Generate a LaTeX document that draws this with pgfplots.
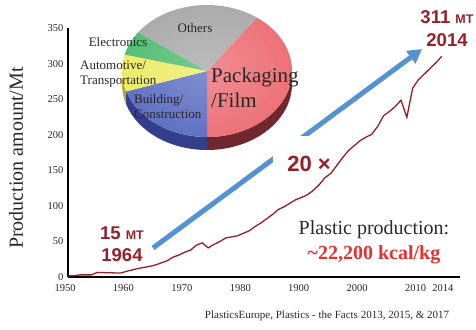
\documentclass[border=0pt]{standalone}
\usepackage{fontspec}
\setmainfont{Liberation Serif}
\newfontfamily\arialfont{Liberation Sans}
\usepackage{pgfplots}
\pgfplotsset{compat=1.18}
\usetikzlibrary{arrows.meta,fadings}

\definecolor{prodline}{RGB}{150,30,38}
\definecolor{annot}{RGB}{150,32,42}
\definecolor{arrowblue}{RGB}{84,146,210}
\definecolor{kcalred}{RGB}{232,48,48}
\definecolor{txt}{RGB}{40,40,40}
\definecolor{pieRed}{RGB}{237,114,120}
\definecolor{pieRedSide}{RGB}{112,40,46}
\definecolor{pieBlue}{RGB}{98,114,196}
\definecolor{pieBlueSide}{RGB}{52,62,138}
\definecolor{pieYellow}{RGB}{238,236,104}
\definecolor{pieYellowSide}{RGB}{176,170,60}
\definecolor{pieGreen}{RGB}{86,190,116}
\definecolor{pieGray}{RGB}{172,172,172}

\tikzfading[name=pieglow, inner color=transparent!80, outer color=transparent!100]

% Global plastics production, million tonnes
\pgfplotstableread{
year  mt
1950  1.5
1951  1.8
1952  3
1954  3
1955  6.5
1959  5.5
1960  8
1962  12
1964  15
1965  17
1966  20
1967  23
1968  28
1969  31
1970  35
1971  38
1972  45
1973  48
1974  41
1975  46
1976  50
1977  55
1979  58
1981  65
1982  71
1983  76
1984  82
1985  88
1986  95
1987  99
1988  104
1989  109
1990  112
1991  116
1992  122
1993  130
1994  140
1995  146
1996  157
1997  168
1998  178
1999  185
2000  192
2001  197
2002  201
2003  212
2004  227
2005  233
2006  240
2007  249
2008  225
2009  266
2010  278
2011  286
2012  294
2013  302
2014  311
}\production

\begin{document}
\begin{tikzpicture}[x=1pt,y=1pt]
\useasboundingbox (0,0) rectangle (476,329);

% growth arrow, partly hidden behind the "20x" text box
\draw[arrowblue, line width=5pt, -{Triangle[length=14pt,width=15pt]}] (153,81) -- (422,280);
\fill[white] (273,151) rectangle (338,193);

\begin{axis}[
  at={(68pt,52pt)}, anchor=south west,
  scale only axis, width=392pt, height=248.5pt,
  xmin=1950, xmax=2017.1, ymin=0, ymax=350,
  axis x line*=bottom, axis y line*=left,
  axis line style={black, line width=1.2pt},
  xtick={1950,1960,1970,1980,1990,2000,2010},
  xticklabels={1950,1960,1970,1980,1900,2000,2010},
  extra x ticks={2014}, extra x tick labels={2014},
  extra x tick style={xticklabel style={xshift=4pt}},
  ytick={0,50,100,150,200,250,300,350},
  major tick length=0pt,
  tick label style={font=\fontsize{10.5}{12}\selectfont, text=txt},
  /pgf/number format/assume math mode=true,
  xticklabel style={yshift=-4pt, xshift=-3pt},
  yticklabel style={xshift=-1pt},
  clip=false,
]
\addplot[prodline, line width=1.3pt] table[x=year, y=mt] {\production};
\end{axis}

% end-use market shares (percent)
\begin{scope}[shift={(207,258)}]
  \fill[pieRedSide] (0:85pt and 66pt) arc[start angle=0, end angle=-90, x radius=85pt, y radius=66pt]
     -- ++(0,-13pt) arc[start angle=-90, end angle=0, x radius=85pt, y radius=66pt] -- cycle;
  \fill[pieBlueSide] (-90:85pt and 66pt) arc[start angle=-90, end angle=-162, x radius=85pt, y radius=66pt]
     -- ++(0,-13pt) arc[start angle=-162, end angle=-90, x radius=85pt, y radius=66pt] -- cycle;
  \fill[pieYellowSide] (-162:85pt and 66pt) arc[start angle=-162, end angle=-180, x radius=85pt, y radius=66pt]
     -- ++(0,-13pt) arc[start angle=-180, end angle=-162, x radius=85pt, y radius=66pt] -- cycle;
  \foreach \p/\c [remember=\e as \s (initially 54), evaluate=\p as \e using \s-3.6*\p]
      in {40/pieRed, 20/pieBlue, 9/pieYellow, 6/pieGreen, 25/pieGray} {
    \fill[\c] (0,0) -- (\s:85pt and 66pt)
      arc[start angle=\s, end angle=\e, x radius=85pt, y radius=66pt] -- cycle;
  }
  \fill[white, path fading=pieglow] (0,0) ellipse[x radius=85pt, y radius=66pt];
\end{scope}

% pie labels
\begin{scope}[every node/.style={font=\fontsize{13}{15}\selectfont, text=txt, inner sep=0pt}]
  \node at (195,301) {Others};
  \node at (118,287) {Electronics};
  \node[anchor=west, align=left] at (80,254.5) {Automotive/\\Transportation};
  \node[anchor=west, align=left] at (134,222) {Building/\\Construction};
\end{scope}
\node[anchor=west, align=left, inner sep=0pt, text=txt, font=\fontsize{21}{25}\selectfont] at (211,241.5) {Packaging\\/Film};

% axis title
\node[rotate=90, text=txt, font=\fontsize{20}{24}\selectfont] at (16,171) {Production amount/Mt};

% annotations
\begin{scope}[every node/.style={text=annot, font=\arialfont\bfseries\fontsize{18.5}{20}\selectfont, inner sep=0pt}]
  \node at (122,96) {15 {\fontsize{12.5}{14}\selectfont MT}};
  \node at (122,74) {1964};
  \node at (447,312) {311 {\fontsize{12.5}{14}\selectfont MT}};
  \node at (447,289) {2014};
  \node[font=\arialfont\bfseries\fontsize{22}{24}\selectfont] at (309,165) {20 ×};
\end{scope}

\node[text=txt, font=\fontsize{20}{24}\selectfont] at (374,99) {Plastic production:};
\node[text=kcalred, font=\bfseries\fontsize{20}{24}\selectfont] at (374,74) {\textasciitilde 22,200 kcal/kg};

\node[text=txt, font=\fontsize{11}{13}\selectfont] at (327,13) {PlasticsEurope, Plastics - the Facts 2013, 2015, \& 2017};
\end{tikzpicture}
\end{document}
